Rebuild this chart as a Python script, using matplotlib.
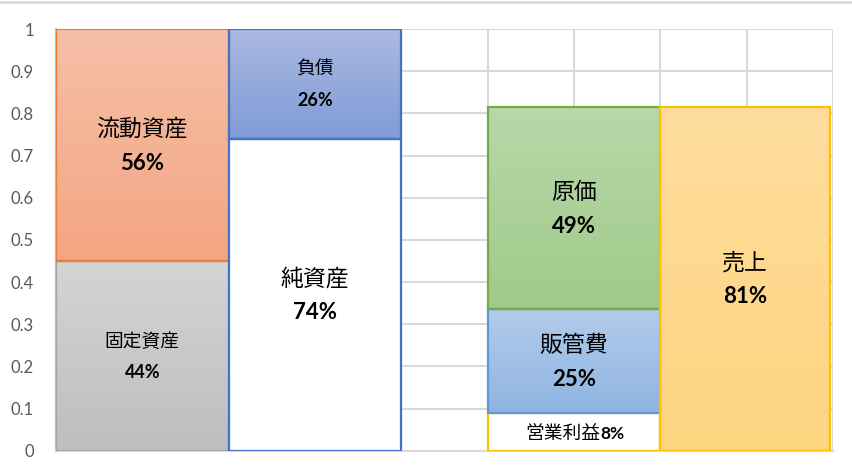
import numpy as np
import matplotlib
matplotlib.use("Agg")
import matplotlib.pyplot as plt
from matplotlib.patches import Rectangle
from matplotlib.colors import LinearSegmentedColormap
from matplotlib.lines import Line2D

plt.rcParams['font.family'] = ['Lato', 'Noto Sans CJK JP', 'DejaVu Sans']

# ---- data (bottom -> top within each column) ----
col_names = [['固定資産', '流動資産'], ['純資産', '負債'], ['営業利益', '販管費', '原価'], ['売上']]
col_values = [[0.45, 0.55], [0.74, 0.26], [0.09, 0.245, 0.48], [0.815]]
col_pct = [['44%', '56%'], ['74%', '26%'], ['8%', '25%', '49%'], ['81%']]
y_ticks = [0, 0.1, 0.2, 0.3, 0.4, 0.5, 0.6, 0.7, 0.8, 0.9, 1.0]
y_ticklabels = ['0', '0.1', '0.2', '0.3', '0.4', '0.5', '0.6', '0.7', '0.8', '0.9', '1']

# ---- style ----
col_x = [(0, 2), (2, 4), (5, 7), (7, 8.96)]
styles = {
    '固定資産': dict(top='#D4D4D4', bot='#BEBEBE', edge='#A5A5A5', size='small'),
    '流動資産': dict(top='#F6C0A8', bot='#F4A582', edge='#ED7D31', size='large'),
    '純資産': dict(top=None, bot=None, edge='#4472C4', size='large'),
    '負債': dict(top='#AAB9E2', bot='#7F9BD6', edge='#4472C4', size='small'),
    '営業利益': dict(top=None, bot=None, edge='#FFC000', size='single'),
    '販管費': dict(top='#B2CBEA', bot='#8FB4E2', edge='#5B9BD5', size='large'),
    '原価': dict(top='#B7D8A9', bot='#A0CA8A', edge='#70AD47', size='large'),
    '売上': dict(top='#FFDD9E', bot='#FDD47F', edge='#FFC000', size='large'),
}

fig = plt.figure(figsize=(8.52, 4.74), dpi=100)
ax = fig.add_axes([56 / 852, 23.3 / 474, (833 - 56) / 852, (450.7 - 29) / 474])
ax.set_xlim(0, 9)
ax.set_ylim(0, 1)

grid_c = '#D9D9D9'
for yv in y_ticks:
    ax.axhline(yv, color=grid_c, lw=1.5, zorder=0)
for xv in range(0, 10):
    ax.axvline(xv, color=grid_c, lw=1.5, zorder=0)

grad = np.linspace(0, 1, 256).reshape(-1, 1)
for (x0, x1), names, vals, pcts in zip(col_x, col_names, col_values, col_pct):
    bottom = 0.0
    for name, v, p in zip(names, vals, pcts):
        st = styles[name]
        if st['top'] is not None:
            cmap = LinearSegmentedColormap.from_list(name, [st['bot'], st['top']])
            ax.imshow(grad, cmap=cmap, extent=(x0, x1, bottom, bottom + v), origin='lower',
                      aspect='auto', zorder=2, interpolation='bilinear')
            ax.add_patch(Rectangle((x0, bottom), x1 - x0, v, fill=False, edgecolor=st['edge'],
                                   lw=1.6, zorder=3))
        else:
            ax.add_patch(Rectangle((x0, bottom), x1 - x0, v, facecolor='white',
                                   edgecolor=st['edge'], lw=1.6, zorder=3))
        cx = (x0 + x1) / 2
        cy = bottom + v / 2
        if st['size'] == 'single':
            ax.annotate(name, (cx, cy), xytext=(19, -1), textcoords='offset points',
                        ha='right', va='center', fontsize=13.5, color='black', zorder=5)
            ax.annotate(p, (cx, cy), xytext=(19, -1.5), textcoords='offset points',
                        ha='left', va='center', fontsize=12.5, fontweight='bold',
                        color='black', zorder=5)
        else:
            big = st['size'] == 'large'
            nfs = 16.5 if big else 13.5
            pfs = 16 if big else 13
            off = 11.5 if big else 10.5
            ax.annotate(name, (cx, cy), xytext=(0, off), textcoords='offset points',
                        ha='center', va='center', fontsize=nfs, color='black', zorder=5)
            ax.annotate(p, (cx, cy), xytext=(0, -off - 1.5), textcoords='offset points',
                        ha='center', va='center', fontsize=pfs, fontweight='bold',
                        color='black', zorder=5)
        bottom += v

ax.set_yticks(y_ticks)
ax.set_yticklabels(y_ticklabels)
ax.set_xticks([])
ax.tick_params(axis='y', length=0, pad=16, labelsize=12, labelcolor='#595959')
for s in ['top', 'right']:
    ax.spines[s].set_visible(False)
ax.spines['left'].set_color('#BFBFBF')
ax.spines['left'].set_linewidth(1.5)
ax.spines['bottom'].set_color(grid_c)
ax.spines['bottom'].set_linewidth(1.5)

fig.add_artist(Line2D([0, 1], [1 - 1.5 / 474, 1 - 1.5 / 474], color='#D9D9D9', lw=2,
                      transform=fig.transFigure))

fig.savefig('out.png', dpi=100)
